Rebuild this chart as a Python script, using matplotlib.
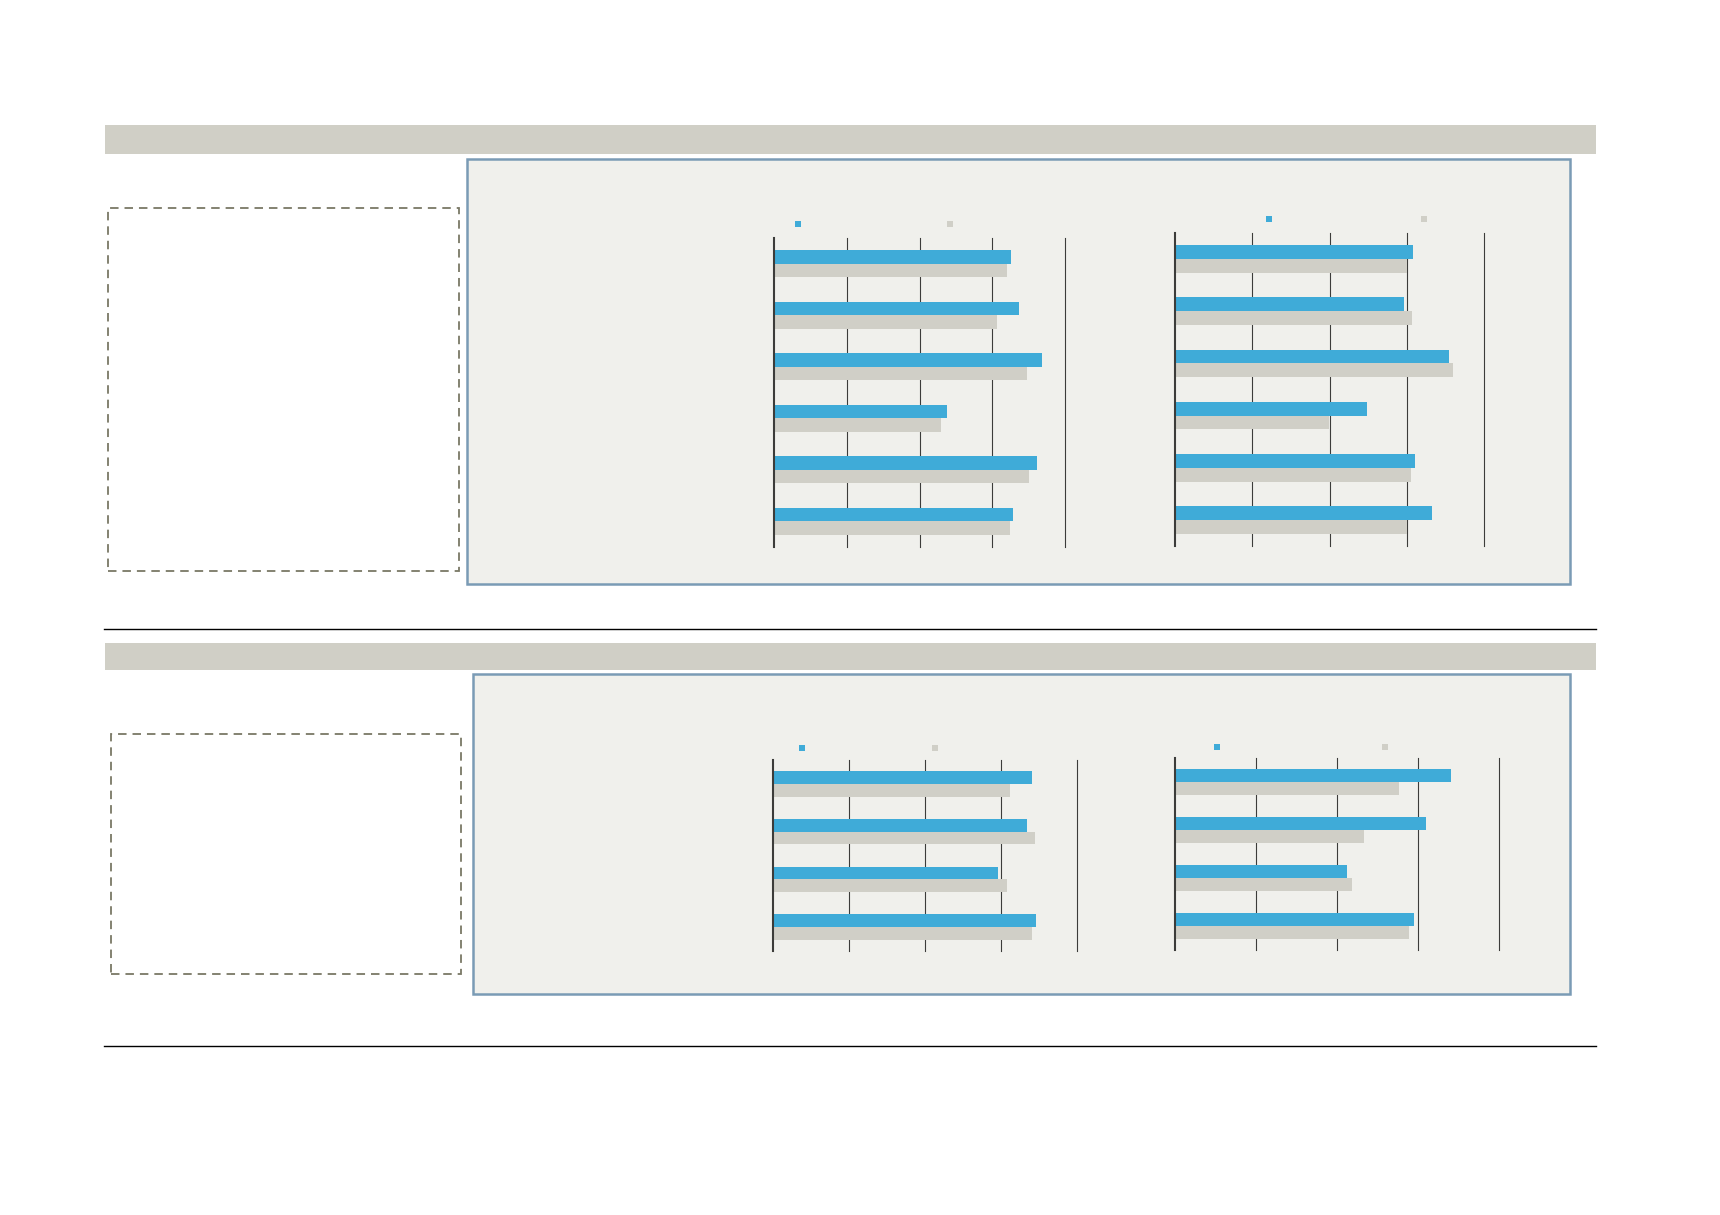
#!/usr/bin/env python3
"""
Two-section dashboard page with paired horizontal bar charts.

Each section has a grey header strip, an empty dashed note box on the
left and a framed panel holding two bar charts (current vs. comparison).
"""

import matplotlib
matplotlib.use("Agg")
import matplotlib.pyplot as plt
import numpy as np
from matplotlib.patches import Rectangle, Patch
from matplotlib.lines import Line2D

# Page size in pixels (dpi 100)
W, H = 1720, 1215

BLUE = '#3FABD8'
GRAY = '#D0CFC7'
HEADER = '#D0CFC6'
PANEL = '#F0F0EC'
FRAME = '#7A9BB5'
DASH = '#7A7866'
AXIS = '#3C3C3A'

# Section 1 - left chart (6 groups)
a_blue = [81.4, 84.1, 92.0, 59.3, 90.3, 82.0]
a_gray = [80.0, 76.7, 87.1, 57.4, 87.6, 81.1]
# Section 1 - right chart (6 groups)
b_blue = [76.9, 74.0, 88.6, 62.1, 77.8, 83.3]
b_gray = [75.1, 76.7, 90.1, 49.9, 76.3, 75.1]
# Section 2 - left chart (4 groups)
c_blue = [85.3, 83.6, 74.0, 86.5]
c_gray = [78.1, 86.3, 77.1, 85.3]
# Section 2 - right chart (4 groups)
d_blue = [85.2, 77.6, 53.1, 73.9]
d_gray = [69.1, 58.3, 54.6, 72.1]

x_max = 100
grid_ticks = [25, 50, 75, 100]


def px_rect(left, top, right, bottom):
    """Convert a pixel box (top-left origin) to figure fraction coords."""
    return [left / W, 1 - bottom / H, (right - left) / W, (bottom - top) / H]


def add_page_frame(fig, header, panel, note, sep_y):
    """Draw header strip, framed panel, dashed note box and separator."""
    l, t, r, b = header
    fig.patches.append(Rectangle((l / W, 1 - b / H), (r - l) / W, (b - t) / H,
                                 transform=fig.transFigure, facecolor=HEADER,
                                 edgecolor='none', zorder=-2))
    l, t, r, b = panel
    fig.patches.append(Rectangle((l / W, 1 - b / H), (r - l) / W, (b - t) / H,
                                 transform=fig.transFigure, facecolor=PANEL,
                                 edgecolor=FRAME, linewidth=1.8, zorder=-2))
    l, t, r, b = note
    fig.patches.append(Rectangle((l / W, 1 - b / H), (r - l) / W, (b - t) / H,
                                 transform=fig.transFigure, fill=False,
                                 edgecolor=DASH, linewidth=1.3,
                                 linestyle=(0, (4.7, 3.3)), zorder=-2))
    fig.lines.append(Line2D([104 / W, 1596 / W], [1 - sep_y / H, 1 - sep_y / H],
                            transform=fig.transFigure, color='black',
                            linewidth=1.0, zorder=-2))


def bar_chart(fig, box, blue, gray, legend_xy, colspace):
    """Paired horizontal bars with vertical gridlines and square legend."""
    ax = fig.add_axes(px_rect(*box))
    ax.set_facecolor('none')
    n = len(blue)
    y = np.arange(n)
    h = 0.265
    ax.barh(y - h / 2, blue, height=h, color=BLUE, zorder=2)
    ax.barh(y + h / 2, gray, height=h, color=GRAY, zorder=2)

    ax.set_xlim(0, x_max)
    ax.set_ylim(n - 0.5, -0.5)
    ax.set_xticks(grid_ticks)
    ax.set_yticks([])
    ax.tick_params(length=0, labelbottom=False, labelleft=False)
    ax.set_axisbelow(True)
    ax.grid(axis='x', color=AXIS, linewidth=0.8)
    for line in ax.get_xgridlines():
        line.set_clip_on(False)

    for side in ['top', 'right', 'bottom']:
        ax.spines[side].set_visible(False)
    ax.spines['left'].set_color(AXIS)
    ax.spines['left'].set_linewidth(1.5)

    handles = [Patch(facecolor=BLUE), Patch(facecolor=GRAY)]
    ax.legend(handles, ['', ''], loc='center left', bbox_to_anchor=legend_xy,
              ncol=2, frameon=False, fontsize=6, handlelength=0.72,
              handleheight=0.72, handletextpad=0, columnspacing=colspace,
              borderpad=0, borderaxespad=0)
    return ax


fig = plt.figure(figsize=(W / 100, H / 100), dpi=100)
fig.patch.set_facecolor('white')

# Section 1
add_page_frame(fig, header=(105, 125, 1596, 154), panel=(467, 159, 1570, 584),
               note=(108, 208, 459, 571), sep_y=629)
bar_chart(fig, (774, 238, 1065, 547), a_blue, a_gray, (0.072, 1.045), 17.5)
bar_chart(fig, (1175, 233, 1484, 546), b_blue, b_gray, (0.293, 1.044), 17.95)

# Section 2
add_page_frame(fig, header=(105, 643, 1596, 670), panel=(473, 674, 1570, 994),
               note=(111, 734, 461, 974), sep_y=1046)
bar_chart(fig, (773, 760, 1077, 951), c_blue, c_gray, (0.087, 1.063), 15.2)
bar_chart(fig, (1175, 758, 1499, 950), d_blue, d_gray, (0.121, 1.056), 19.45)

plt.savefig('out.png', dpi=100)
plt.close()
